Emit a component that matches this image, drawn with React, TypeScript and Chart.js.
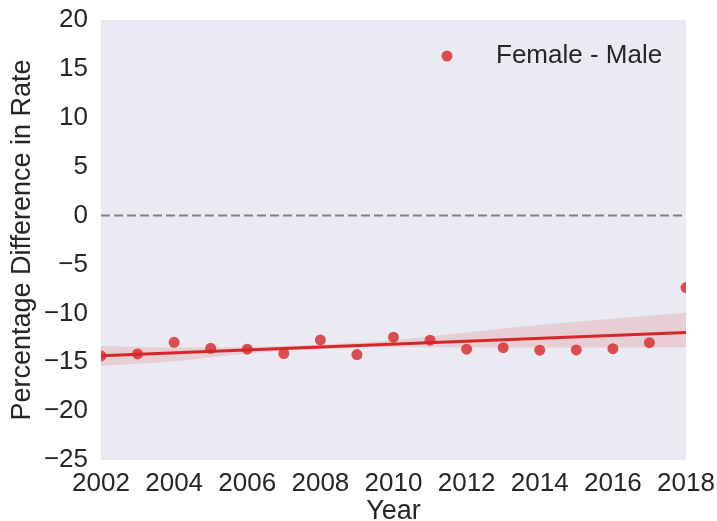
import React, { useEffect, useRef } from "react";
import { Chart, registerables } from "chart.js";

Chart.register(...registerables);

const years = [2002, 2003, 2004, 2005, 2006, 2007, 2008, 2009, 2010, 2011, 2012, 2013, 2014, 2015, 2016, 2017, 2018];
const diffs = [-14.36, -14.15, -12.96, -13.57, -13.67, -14.12, -12.72, -14.22, -12.44, -12.75, -13.67, -13.51, -13.77, -13.74, -13.61, -13.0, -7.37];

const fitYears = [2002, 2018];
const fitValues = [-14.34, -11.97];

const bandYears = [2002, 2004, 2006, 2008, 2010, 2012, 2014, 2016, 2018];
const bandUpper = [-13.33, -13.5, -13.45, -13.2, -12.75, -11.95, -11.2, -10.55, -9.93];
const bandLower = [-15.38, -14.9, -14.1, -13.65, -13.45, -13.5, -13.5, -13.5, -13.47];

const refYears = [2002, 2018];
const refValues = [0, 0];

const xTicks = [2002, 2004, 2006, 2008, 2010, 2012, 2014, 2016, 2018];
const yTicks = [-25, -20, -15, -10, -5, 0, 5, 10, 15, 20];

const legendLabel = "Female - Male";
const xTitle = "Year";
const yTitle = "Percentage Difference in Rate";

const RED = "#d62728";
const RED_PT = "rgba(214,39,40,0.8)";
const TEXT = "#262626";
const FONT = "'Liberation Sans', Arial, sans-serif";

const zip = (xs: number[], ys: number[]) => xs.map((x, i) => ({ x, y: ys[i] }));

const bgPlugin = {
  id: "bg",
  beforeDraw(chart: any) {
    const { ctx, chartArea } = chart;
    ctx.save();
    ctx.fillStyle = "#eaeaf2";
    ctx.fillRect(chartArea.left, chartArea.top, chartArea.right - chartArea.left, chartArea.bottom - chartArea.top);
    ctx.restore();
  },
};

const legendPlugin = {
  id: "customLegend",
  afterDraw(chart: any) {
    const { ctx, chartArea } = chart;
    const y = chartArea.top + 36;
    ctx.save();
    ctx.fillStyle = RED_PT;
    ctx.beginPath();
    ctx.arc(chartArea.right - 239, y, 5.5, 0, Math.PI * 2);
    ctx.fill();
    ctx.fillStyle = TEXT;
    ctx.font = `26px ${FONT}`;
    ctx.textBaseline = "middle";
    ctx.textAlign = "left";
    ctx.fillText(legendLabel, chartArea.right - 190, y);
    ctx.restore();
  },
};

export default function App() {
  const ref = useRef<HTMLCanvasElement>(null);
  useEffect(() => {
    document.body.style.margin = "0";
    const chart = new Chart(ref.current!, {
      type: "scatter",
      data: {
        datasets: [
          {
            label: legendLabel,
            data: zip(years, diffs),
            backgroundColor: RED_PT,
            borderWidth: 0,
            pointRadius: 5.5,
            clip: 0,
            order: 0,
          } as any,
          {
            type: "line",
            label: "fit",
            data: zip(fitYears, fitValues),
            borderColor: RED,
            borderWidth: 3,
            pointRadius: 0,
            clip: 0,
            order: 1,
          },
          {
            type: "line",
            label: "ciUpper",
            data: zip(bandYears, bandUpper),
            borderWidth: 0,
            borderColor: "rgba(0,0,0,0)",
            backgroundColor: "rgba(214,39,40,0.15)",
            pointRadius: 0,
            fill: "+1",
            cubicInterpolationMode: "monotone",
            clip: 0,
            order: 3,
          },
          {
            type: "line",
            label: "ciLower",
            data: zip(bandYears, bandLower),
            borderWidth: 0,
            borderColor: "rgba(0,0,0,0)",
            pointRadius: 0,
            fill: false,
            cubicInterpolationMode: "monotone",
            clip: 0,
            order: 4,
          },
          {
            type: "line",
            label: "zero",
            data: zip(refYears, refValues),
            borderColor: "#808080",
            borderWidth: 2,
            borderDash: [9, 4],
            pointRadius: 0,
            clip: 0,
            order: 5,
          },
        ],
      },
      options: {
        animation: false,
        responsive: false,
        layout: { padding: { left: 0, right: 31, top: 20, bottom: 0 } },
        plugins: { legend: { display: false }, tooltip: { enabled: false } },
        scales: {
          x: {
            type: "linear",
            min: 2002,
            max: 2018,
            grid: { display: false, drawTicks: false },
            border: { display: false },
            afterBuildTicks: (axis: any) => {
              axis.ticks = xTicks.map((v) => ({ value: v }));
            },
            afterFit: (axis: any) => {
              axis.height = 61;
              axis.paddingLeft = 0;
              axis.paddingRight = 0;
            },
            ticks: {
              color: TEXT,
              font: { family: FONT, size: 26 },
              padding: 8,
              maxRotation: 0,
              autoSkip: false,
              callback: (v: any) => String(v),
            },
            title: {
              display: true,
              text: xTitle,
              color: TEXT,
              font: { family: FONT, size: 27, lineHeight: 1 },
              padding: { top: 0, bottom: -4 },
            },
          },
          y: {
            min: -25,
            max: 20,
            grid: { display: false, drawTicks: false },
            border: { display: false },
            afterBuildTicks: (axis: any) => {
              axis.ticks = yTicks.map((v) => ({ value: v }));
            },
            afterFit: (axis: any) => {
              axis.width = 101;
              axis.paddingTop = 0;
              axis.paddingBottom = 0;
            },
            ticks: {
              color: TEXT,
              font: { family: FONT, size: 26 },
              padding: 13,
              autoSkip: false,
              callback: (v: any) => String(v).replace("-", "\u2212"),
            },
            title: {
              display: true,
              text: yTitle,
              color: TEXT,
              font: { family: FONT, size: 27 },
              padding: { top: 6, bottom: 0 },
            },
          },
        },
      },
      plugins: [bgPlugin, legendPlugin],
    } as any);
    return () => chart.destroy();
  }, []);
  return <canvas ref={ref} width={717} height={521} style={{ display: "block" }} />;
}
